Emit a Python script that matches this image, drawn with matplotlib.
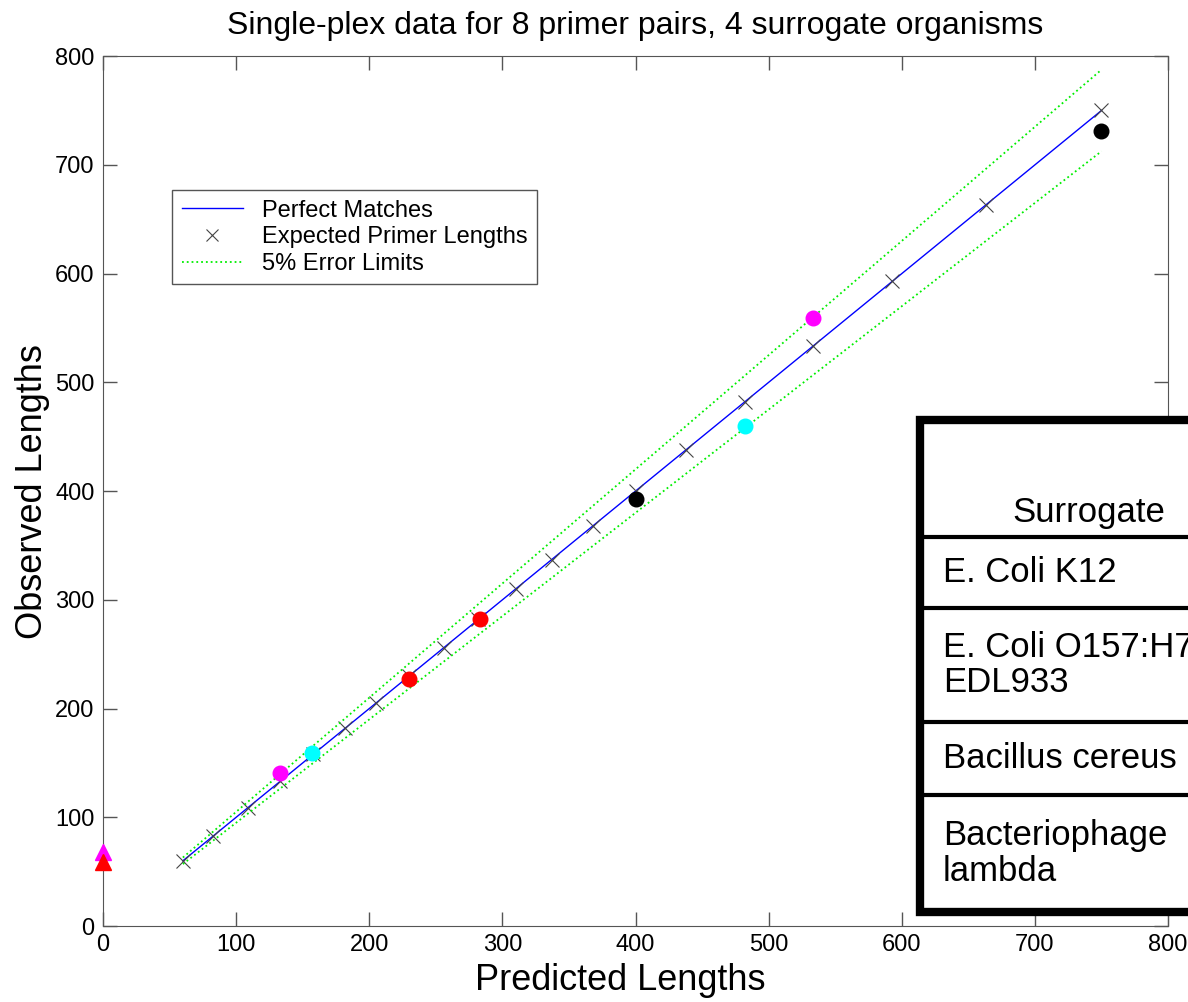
import numpy as np
import matplotlib.pyplot as plt
from matplotlib.patches import Rectangle
from matplotlib.lines import Line2D

plt.rcParams['font.family'] = ['Liberation Sans', 'DejaVu Sans']

# expected primer lengths (on the perfect-match line)
expected = [60, 83, 109, 133, 158, 182, 205, 230, 256, 282, 310, 337, 368,
            400, 438, 482, 533, 593, 663, 750]

# observed lengths per surrogate organism
red_pred = [230, 283]
red_obs = [227, 282]
magenta_pred = [133, 533]
magenta_obs = [141, 559]
cyan_pred = [157, 482]
cyan_obs = [159, 460]
black_pred = [400, 750]
black_obs = [393, 731]

# no-product results drawn at x = 0
tri_magenta = [68]
tri_red = [59]

table_rows = ["E. Coli K12", "E. Coli O157:H7\nEDL933", "Bacillus cereus",
              "Bacteriophage\nlambda"]

fig = plt.figure(figsize=(11.88, 10.02), dpi=100)
ax = fig.add_axes([0.0867, 0.0758, 0.8965, 0.8682])

exp = np.array(expected)
ax.plot(exp, exp, color='blue', lw=1, label='Perfect Matches')
ax.plot(exp, exp, 'x', color='#444444', ms=10, mew=0.8, label='Expected Primer Lengths')
ax.plot(exp, exp * 1.05, ':', color='#00ee00', lw=1.3, label='5% Error Limits')
ax.plot(exp, exp * 0.95, ':', color='#00ee00', lw=1.3)

ax.plot(red_pred, red_obs, 'o', color='red', ms=10.5)
ax.plot(magenta_pred, magenta_obs, 'o', color='magenta', ms=10.5)
ax.plot(cyan_pred, cyan_obs, 'o', color='cyan', ms=10.5)
ax.plot(black_pred, black_obs, 'o', color='black', ms=10.5)
ax.plot([0] * len(tri_magenta), tri_magenta, '^', color='magenta', ms=11, clip_on=False, zorder=5)
ax.plot([0] * len(tri_red), tri_red, '^', color='red', ms=11, clip_on=False, zorder=5)

ax.set_xlim(0, 800)
ax.set_ylim(0, 800)
ax.set_xticks(range(0, 801, 100))
ax.set_yticks(range(0, 801, 100))
ax.tick_params(direction='in', length=10, width=1, top=True, right=True,
               labelsize=17, color='#555555', pad=6)
for s in ax.spines.values():
    s.set_color('#555555')

ax.set_title('Single-plex data for 8 primer pairs, 4 surrogate organisms', fontsize=23, pad=16)
ax.set_xlabel('Predicted Lengths', fontsize=26)
ax.xaxis.set_label_coords(0.486, -0.043)
ax.set_ylabel('Observed Lengths', fontsize=26, labelpad=4)

handles = [Line2D([], [], color='blue', lw=1),
           Line2D([], [], ls='none', marker='x', color='#444444', ms=9, mew=0.8),
           Line2D([], [], ls=':', color='#00ee00', lw=1.3)]
leg = ax.legend(handles, ['Perfect Matches', 'Expected Primer Lengths', '5% Error Limits'],
                loc='upper left', bbox_to_anchor=(0.065, 0.846), borderaxespad=0,
                fancybox=False, fontsize=17, handlelength=2.6, labelspacing=0.2,
                borderpad=0.4, framealpha=1)
leg.get_frame().set_edgecolor('#555555')

# overlay table (cut off at the right edge, as in the original slide)
W, H = 1188.0, 1002.0
left, top, bottom = 920 / W, 1 - 420 / H, 1 - 912 / H
fig.patches.append(Rectangle((left, bottom), 1.2 - left, top - bottom, transform=fig.transFigure,
                             facecolor='white', edgecolor='black', lw=6, zorder=10))
row_lines = [537, 608, 722, 795]
for yl in row_lines:
    fig.add_artist(Line2D([left, 1.0], [1 - yl / H] * 2, color='black', lw=3, zorder=11))
fig.text(1012 / W, 1 - 522 / H, 'Surrogate', fontsize=25, va='baseline', ha='left', zorder=12)
edges = [537, 608, 722, 795, 912]
for i, name in enumerate(table_rows):
    yc = (edges[i] + edges[i + 1]) / 2
    fig.text(943 / W, 1 - yc / H, name, fontsize=25, va='center', ha='left',
             linespacing=1.1, zorder=12)

fig.savefig('out.png', dpi=100)
